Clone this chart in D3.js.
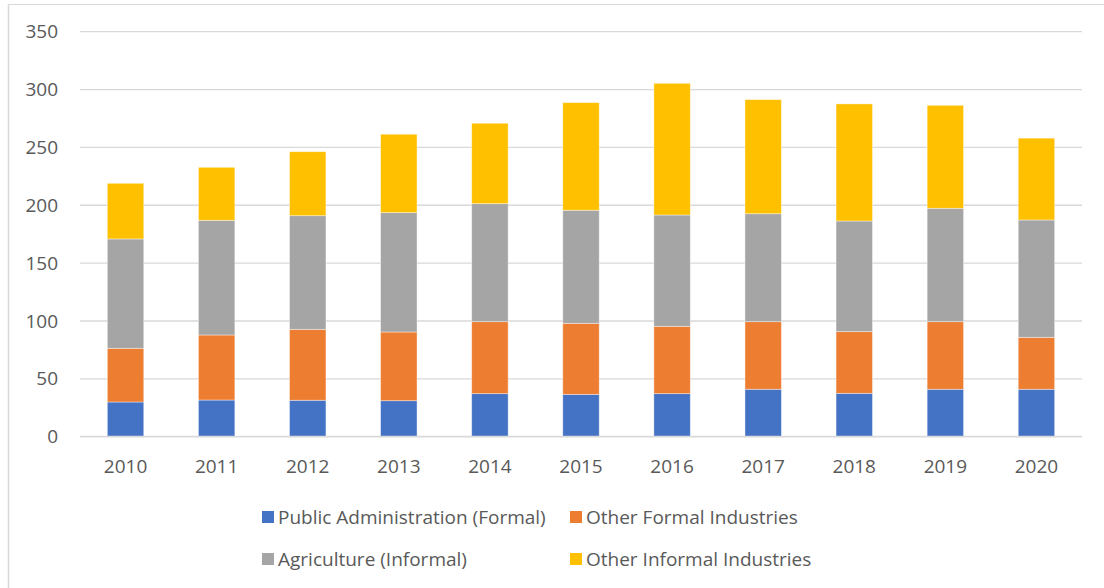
<!DOCTYPE html>
<html>
<head>
<meta charset="utf-8">
<script src="https://cdn.jsdelivr.net/npm/d3@7/dist/d3.min.js"></script>
<style>
  html, body { margin: 0; padding: 0; background: #fff; }
  svg { display: block; font-family: "Open Sans", "Liberation Sans", sans-serif; }
</style>
</head>
<body>
<svg id="chart" width="1104" height="588"></svg>
<script>
const years = ["2010","2011","2012","2013","2014","2015","2016","2017","2018","2019","2020"];
const publicAdmin   = [30.0, 31.7, 31.5, 31.1, 37.2, 36.6, 37.2, 41.0, 37.5, 41.0, 41.0];
const otherFormal   = [46.4, 56.2, 61.3, 59.4, 62.2, 61.4, 58.2, 58.4, 53.3, 58.4, 44.9];
const agriculture   = [94.5, 99.1, 98.2, 103.1, 102.0, 97.7, 96.2, 93.3, 95.6, 98.0, 101.4];
const otherInformal = [48.1, 45.8, 55.3, 67.8, 69.5, 93.0, 113.8, 98.6, 101.2, 89.0, 70.7];
const seriesNames = ["Public Administration (Formal)", "Other Formal Industries", "Agriculture (Informal)", "Other Informal Industries"];
const seriesColors = ["#4472C4", "#ED7D31", "#A5A5A5", "#FFC000"];
const yTicks = [0, 50, 100, 150, 200, 250, 300, 350];

const seriesValues = [publicAdmin, otherFormal, agriculture, otherInformal];
const keys = ["s0","s1","s2","s3"];
const table = years.map((yr, i) => {
  const row = { year: yr };
  keys.forEach((k, j) => row[k] = seriesValues[j][i]);
  return row;
});

const svg = d3.select("#chart");

// frame lines (chart area border, left & top)
svg.append("line").attr("x1", 8.5).attr("x2", 8.5).attr("y1", 4).attr("y2", 588)
  .attr("stroke", "#D9D9D9").attr("stroke-width", 1.5);
svg.append("line").attr("x1", 8).attr("x2", 1104).attr("y1", 4.5).attr("y2", 4.5)
  .attr("stroke", "#D9D9D9").attr("stroke-width", 1);

const plotLeft = 80, plotRight = 1082, plotTop = 31.7, plotBottom = 436.7;
const x = d3.scaleBand().domain(years).range([plotLeft, plotRight]).paddingInner(0.6).paddingOuter(0.3);
const y = d3.scaleLinear().domain([0, 350]).range([plotBottom, plotTop]);
const fs = 19;

// gridlines
svg.append("g").selectAll("line").data(yTicks.filter(t => t > 0)).join("line")
  .attr("x1", plotLeft).attr("x2", plotRight)
  .attr("y1", d => y(d)).attr("y2", d => y(d))
  .attr("stroke", "#D9D9D9").attr("stroke-width", 1.3);

// y tick labels
svg.append("g").selectAll("text").data(yTicks).join("text")
  .attr("x", 58).attr("y", d => y(d)).attr("dy", "0.35em")
  .attr("text-anchor", "end").attr("fill", "#595959").attr("font-size", fs)
  .text(d => d);

// bars
const stack = d3.stack().keys(keys)(table);
svg.append("g").selectAll("g").data(stack).join("g")
  .attr("fill", (d, i) => seriesColors[i])
  .selectAll("rect").data(d => d).join("rect")
  .attr("x", d => x(d.data.year))
  .attr("width", x.bandwidth())
  .attr("y", d => y(d[1]))
  .attr("height", d => y(d[0]) - y(d[1]))
  .attr("stroke", "#ffffff").attr("stroke-opacity", 0.5).attr("stroke-width", 0.8);

// baseline
svg.append("line").attr("x1", plotLeft).attr("x2", plotRight).attr("y1", plotBottom).attr("y2", plotBottom)
  .attr("stroke", "#D9D9D9").attr("stroke-width", 1.8);

// x labels
svg.append("g").selectAll("text").data(years).join("text")
  .attr("x", d => x(d) + x.bandwidth() / 2).attr("y", 473)
  .attr("text-anchor", "middle").attr("fill", "#595959").attr("font-size", fs)
  .text(d => d);

// legend
const legendPos = [[262, 517], [570, 517], [262, 559], [570, 559]];
const lg = svg.append("g").selectAll("g").data(seriesNames).join("g")
  .attr("transform", (d, i) => `translate(${legendPos[i][0]},${legendPos[i][1]})`);
lg.append("rect").attr("x", 0).attr("y", -6).attr("width", 12).attr("height", 12)
  .attr("fill", (d, i) => seriesColors[i]);
lg.append("text").attr("x", 16).attr("y", 0).attr("dy", "0.35em")
  .attr("fill", "#595959").attr("font-size", fs).text(d => d);
</script>
</body>
</html>
